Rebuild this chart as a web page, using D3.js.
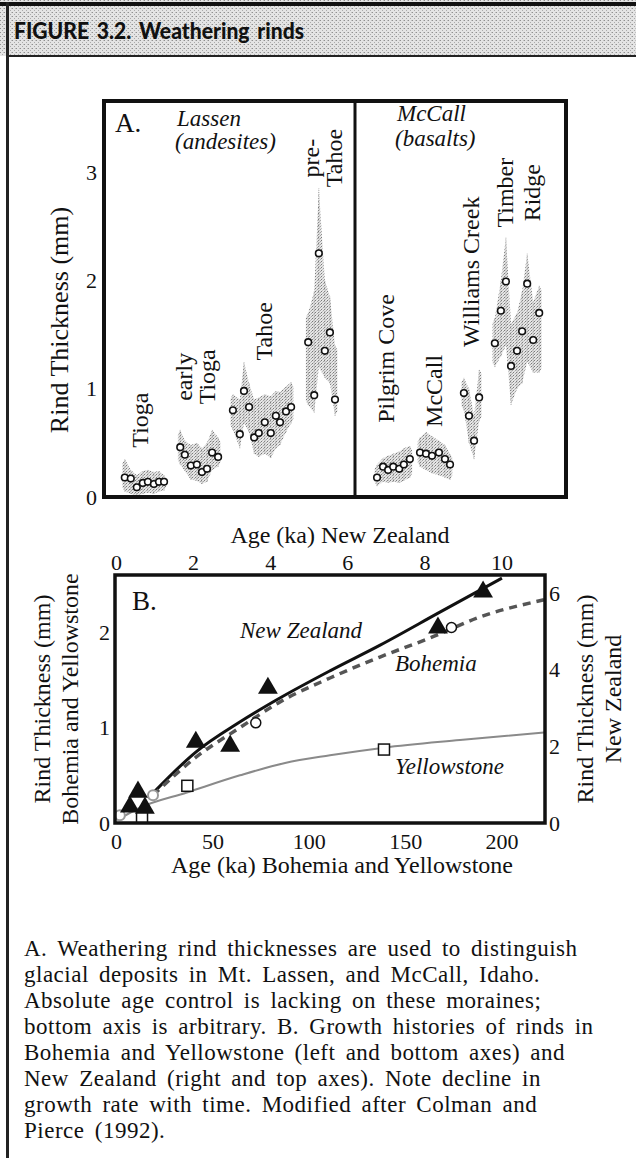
<!DOCTYPE html>
<html>
<head>
<meta charset="utf-8">
<script src="https://cdn.jsdelivr.net/npm/d3@7"></script>
<style>
  body { margin: 0; background: #fff; }
  svg { display: block; }
  text { font-family: "Liberation Serif", "Times New Roman", serif; fill: #111; }
  .tick text { font-size: 22px; font-family: "Liberation Serif", serif; fill: #111; }
</style>
</head>
<body>
<svg id="fig" width="636" height="1158"></svg>
<script>
// ---------- Panel A data (x = arbitrary sample position, y = rind thickness mm)
const tiogaPos  = [4.5, 5.8, 7.1, 8.4, 9.5, 10.8, 11.9, 13.0];
const tiogaRind = [0.18, 0.17, 0.09, 0.13, 0.14, 0.12, 0.14, 0.14];
const tiogaLow  = [0.05, 0.03, 0.01, 0.03, 0.04, 0.03, 0.05, 0.06];
const tiogaHigh = [0.35, 0.25, 0.20, 0.24, 0.25, 0.23, 0.24, 0.20];

const earlyPos  = [16.5, 17.5, 18.8, 20.1, 21.2, 22.3, 23.4, 24.7];
const earlyRind = [0.46, 0.39, 0.29, 0.30, 0.23, 0.26, 0.41, 0.37];
const earlyLow  = [0.30, 0.24, 0.16, 0.15, 0.12, 0.14, 0.25, 0.28];
const earlyHigh = [0.62, 0.52, 0.48, 0.50, 0.45, 0.50, 0.62, 0.55];

const tahoePos  = [27.9, 29.4, 30.3, 31.4, 32.5, 33.5, 34.8, 36.1, 37.2, 38.1, 39.4, 40.5];
const tahoeRind = [0.80, 0.58, 0.98, 0.83, 0.55, 0.59, 0.69, 0.59, 0.75, 0.69, 0.79, 0.83];
const tahoeLow  = [0.62, 0.45, 0.68, 0.60, 0.40, 0.37, 0.40, 0.36, 0.45, 0.48, 0.60, 0.68];
const tahoeHigh = [0.95, 0.90, 1.25, 1.05, 0.90, 0.92, 0.95, 0.93, 0.98, 0.97, 1.02, 1.06];

const preTahoePos  = [44.2, 45.5, 46.5, 47.8, 48.9, 50.0];
const preTahoeRind = [1.43, 0.94, 2.25, 1.35, 1.52, 0.90];
const preTahoeLow  = [0.85, 0.78, 1.20, 1.10, 1.05, 0.75];
const preTahoeHigh = [1.70, 1.90, 2.85, 2.00, 1.85, 1.40];

const pilgrimPos  = [59.1, 60.4, 61.5, 62.6, 63.9, 64.9, 66.2];
const pilgrimRind = [0.18, 0.28, 0.25, 0.28, 0.26, 0.30, 0.35];
const pilgrimLow  = [0.10, 0.14, 0.13, 0.14, 0.13, 0.15, 0.18];
const pilgrimHigh = [0.30, 0.36, 0.38, 0.40, 0.42, 0.45, 0.47];

const mccallPos  = [68.4, 69.7, 71.0, 72.5, 73.8, 74.9];
const mccallRind = [0.41, 0.40, 0.38, 0.41, 0.35, 0.30];
const mccallLow  = [0.28, 0.25, 0.22, 0.20, 0.18, 0.16];
const mccallHigh = [0.55, 0.60, 0.56, 0.52, 0.48, 0.40];

const williamsPos  = [77.9, 79.0, 80.1, 81.2];
const williamsRind = [0.96, 0.75, 0.52, 0.92];
const williamsLow  = [0.80, 0.50, 0.35, 0.70];
const williamsHigh = [1.10, 1.00, 0.75, 1.18];

const timberPos  = [84.6, 85.9, 87.0, 88.1, 89.4, 90.5, 91.6, 92.9, 94.2];
const timberRind = [1.42, 1.72, 1.99, 1.21, 1.35, 1.53, 1.97, 1.45, 1.70];
const timberLow  = [1.20, 1.30, 1.40, 0.85, 1.00, 1.05, 1.25, 1.15, 1.15];
const timberHigh = [1.65, 2.00, 2.40, 1.60, 1.70, 1.90, 2.25, 1.80, 1.95];

const aTicks = [0, 1, 2, 3];

// ---------- Panel B data
// New Zealand: top axis (ka) / right axis (mm)
const nzAge  = [0.36, 0.57, 0.75, 2.07, 2.96, 3.94, 8.35, 9.52];
const nzRind = [0.42, 0.81, 0.39, 2.11, 2.01, 3.52, 5.09, 6.03];
const nzCurveAge  = [0.96, 2.07, 3.22, 4.25, 5.55, 6.85, 8.40, 10.01];
const nzCurveRind = [0.78, 1.85, 2.64, 3.26, 3.97, 4.64, 5.50, 6.39];
// Bohemia + Yellowstone: bottom axis (ka) / left axis (mm)
const bohAge  = [72.5, 174];
const bohRind = [1.05, 2.05];
const bohGrayAge  = [2, 19.2];
const bohGrayRind = [0.08, 0.29];
const bohCurveAge  = [19.2, 41.5, 64.3, 85.1, 111, 136.9, 162.9, 188.8, 222];
const bohCurveRind = [0.29, 0.69, 1.00, 1.27, 1.52, 1.74, 1.94, 2.16, 2.34];
const ysAge  = [13.5, 37, 139];
const ysRind = [0.06, 0.39, 0.77];
const ysCurveAge  = [0.5, 12.4, 36.8, 64.3, 87.7, 111, 139, 178.4, 222];
const ysCurveRind = [0.03, 0.16, 0.32, 0.50, 0.63, 0.71, 0.79, 0.87, 0.95];

const bLeftTicks   = [0, 1, 2];
const bRightTicks  = [0, 2, 4, 6];
const bTopTicks    = [0, 2, 4, 6, 8, 10];
const bBottomTicks = [0, 50, 100, 150, 200];

const captionLines = [
  "A. Weathering rind thicknesses are used to distinguish",
  "glacial deposits in Mt. Lassen, and McCall, Idaho.",
  "Absolute age control is lacking on these moraines;",
  "bottom axis is arbitrary. B. Growth histories of rinds in",
  "Bohemia and Yellowstone (left and bottom axes) and",
  "New Zealand (right and top axes). Note decline in",
  "growth rate with time. Modified after Colman and",
  "Pierce (1992)."
];

const svg = d3.select('#fig');
const defs = svg.append('defs');

// halftone patterns
const stip = defs.append('pattern').attr('id', 'stip')
  .attr('width', 3).attr('height', 3).attr('patternUnits', 'userSpaceOnUse');
stip.append('rect').attr('width', 3).attr('height', 3).attr('fill', '#e6e6e6');
stip.append('rect').attr('width', 1).attr('height', 1).attr('fill', '#7a7a7a');
stip.append('rect').attr('x', 2).attr('y', 1).attr('width', 1).attr('height', 1).attr('fill', '#a4a4a4');
stip.append('rect').attr('x', 1).attr('y', 2).attr('width', 1).attr('height', 1).attr('fill', '#c0c0c0');

const tone = defs.append('pattern').attr('id', 'tone')
  .attr('width', 4).attr('height', 4).attr('patternUnits', 'userSpaceOnUse');
tone.append('rect').attr('width', 4).attr('height', 4).attr('fill', '#e4e4e4');
tone.append('rect').attr('width', 1).attr('height', 1).attr('fill', '#909090');
tone.append('rect').attr('x', 2).attr('y', 2).attr('width', 1).attr('height', 1).attr('fill', '#aaaaaa');
tone.append('rect').attr('x', 3).attr('y', 0).attr('width', 1).attr('height', 1).attr('fill', '#c0c0c0');

// ---------- header
svg.append('rect').attr('x', 0).attr('y', 0).attr('width', 636).attr('height', 56).attr('fill', 'url(#tone)');
svg.append('rect').attr('x', 0).attr('y', 2).attr('width', 636).attr('height', 4).attr('fill', '#111');
svg.append('rect').attr('x', 6).attr('y', 55).attr('width', 630).attr('height', 2).attr('fill', '#222');
svg.append('rect').attr('x', 6).attr('y', 2).attr('width', 3).attr('height', 1156).attr('fill', '#222');
svg.append('text').attr('x', 14).attr('y', 39)
  .style('font-family', 'Lato, "Open Sans", sans-serif').style('font-weight', 900)
  .style('font-size', '23px').style('word-spacing', '3px')
  .attr('textLength', 290).attr('lengthAdjust', 'spacingAndGlyphs')
  .text('FIGURE 3.2.  Weathering rinds');

// ---------- Panel A
const aLeft = 104, aRight = 566, aTop = 101, aBottom = 497, aDivide = 355;
const xA = d3.scaleLinear().domain([0, 100]).range([aLeft, aRight]);
const yA = d3.scaleLinear().domain([0, 3.657]).range([aBottom, aTop]);

const groups = [
  { pos: tiogaPos, rind: tiogaRind, low: tiogaLow, high: tiogaHigh },
  { pos: earlyPos, rind: earlyRind, low: earlyLow, high: earlyHigh },
  { pos: tahoePos, rind: tahoeRind, low: tahoeLow, high: tahoeHigh },
  { pos: preTahoePos, rind: preTahoeRind, low: preTahoeLow, high: preTahoeHigh },
  { pos: pilgrimPos, rind: pilgrimRind, low: pilgrimLow, high: pilgrimHigh },
  { pos: mccallPos, rind: mccallRind, low: mccallLow, high: mccallHigh },
  { pos: williamsPos, rind: williamsRind, low: williamsLow, high: williamsHigh },
  { pos: timberPos, rind: timberRind, low: timberLow, high: timberHigh }
];

const band = d3.area()
  .x(d => xA(d.p)).y0(d => yA(d.lo)).y1(d => yA(d.hi))
  .curve(d3.curveLinear);

const gA = svg.append('g');
groups.forEach(g => {
  const rows = g.pos.map((p, i) => ({ p, v: g.rind[i], lo: g.low[i], hi: g.high[i] }));
  // pad band a little beyond end samples
  const padRows = [{ p: rows[0].p - 0.5, lo: rows[0].lo + 0.04, hi: rows[0].hi - 0.04 }]
    .concat(rows, [{ p: rows[rows.length - 1].p + 0.5, lo: rows[rows.length - 1].lo + 0.04, hi: rows[rows.length - 1].hi - 0.04 }]);
  gA.append('path').datum(padRows).attr('d', band).attr('fill', 'url(#stip)');
  // thin dotted whiskers at extremes
  gA.selectAll(null).data(rows).enter().append('line')
    .attr('x1', d => xA(d.p)).attr('x2', d => xA(d.p))
    .attr('y1', d => yA(d.lo)).attr('y2', d => yA(d.hi))
    .attr('stroke', '#999').attr('stroke-width', 0.8).attr('stroke-dasharray', '1 1');
  gA.selectAll(null).data(rows).enter().append('circle')
    .attr('cx', d => xA(d.p)).attr('cy', d => yA(d.v)).attr('r', 3.3)
    .attr('fill', '#fff').attr('stroke', '#111').attr('stroke-width', 1.6);
});

// frame
svg.append('rect').attr('x', aLeft).attr('y', aTop).attr('width', aRight - aLeft).attr('height', aBottom - aTop)
  .attr('fill', 'none').attr('stroke', '#111').attr('stroke-width', 4);
svg.append('line').attr('x1', aDivide).attr('x2', aDivide).attr('y1', aTop).attr('y2', aBottom)
  .attr('stroke', '#111').attr('stroke-width', 3);

const axA = svg.append('g').attr('transform', `translate(${aLeft - 1},0)`)
  .call(d3.axisLeft(yA).tickValues(aTicks).tickSize(0).tickPadding(6).tickFormat(d3.format('d')));
axA.select('.domain').remove();

svg.append('text').attr('transform', `translate(68,320) rotate(-90)`)
  .attr('text-anchor', 'middle').style('font-size', '26px').text('Rind Thickness (mm)');

svg.append('text').attr('x', 115).attr('y', 132).style('font-size', '27px').text('A.');
svg.append('text').attr('x', 177).attr('y', 126).style('font-size', '23px').style('font-style', 'italic').text('Lassen');
svg.append('text').attr('x', 175).attr('y', 149).style('font-size', '23px').style('font-style', 'italic').text('(andesites)');
svg.append('text').attr('x', 397).attr('y', 121).style('font-size', '23px').style('font-style', 'italic').text('McCall');
svg.append('text').attr('x', 395).attr('y', 146).style('font-size', '23px').style('font-style', 'italic').text('(basalts)');

// rotated moraine labels: lines, x-centres (px), y value (mm)
function vlabel(lines, xs, yVal) {
  lines.forEach((s, i) => {
    svg.append('text')
      .attr('transform', `translate(${xs[i]},${yA(yVal)}) rotate(-90)`)
      .attr('text-anchor', 'middle').attr('dy', '0.28em')
      .style('font-size', '24px').text(s);
  });
}
vlabel(['Tioga'], [141], 0.71);
vlabel(['early', 'Tioga'], [185, 208], 1.11);
vlabel(['Tahoe'], [265], 1.53);
vlabel(['pre-', 'Tahoe'], [312, 335], 3.13);
vlabel(['Pilgrim Cove'], [387], 1.28);
vlabel(['McCall'], [435], 0.98);
vlabel(['Williams Creek'], [472], 2.08);
vlabel(['Timber', 'Ridge'], [506, 533], 2.81);

// ---------- Panel B
const bLeft = 115, bRight = 545, bTop = 575, bBottom = 823;
const xB = d3.scaleLinear().domain([0, 222]).range([116, 544]);   // Bohemia & Yellowstone ka
const xT = d3.scaleLinear().domain([0, 11.1]).range([116, 544]);  // New Zealand ka
const yL = d3.scaleLinear().domain([0, 2.6]).range([bBottom, bTop]);
const yR = d3.scaleLinear().domain([0, 6.47]).range([bBottom, bTop]);

const clip = defs.append('clipPath').attr('id', 'bclip');
clip.append('rect').attr('x', bLeft).attr('y', bTop).attr('width', bRight - bLeft).attr('height', bBottom - bTop);
const gB = svg.append('g').attr('clip-path', 'url(#bclip)');

const lineBY = d3.line().x(d => xB(d[0])).y(d => yL(d[1])).curve(d3.curveMonotoneX);
const lineNZ = d3.line().x(d => xT(d[0])).y(d => yR(d[1])).curve(d3.curveMonotoneX);

gB.append('path').datum(d3.zip(ysCurveAge, ysCurveRind)).attr('d', lineBY)
  .attr('fill', 'none').attr('stroke', '#8a8a8a').attr('stroke-width', 2);
gB.append('path').datum(d3.zip(nzCurveAge, nzCurveRind)).attr('d', lineNZ)
  .attr('fill', 'none').attr('stroke', '#111').attr('stroke-width', 3);
gB.append('path').datum(d3.zip(bohCurveAge, bohCurveRind)).attr('d', lineBY)
  .attr('fill', 'none').attr('stroke', '#555').attr('stroke-width', 3.5).attr('stroke-dasharray', '8 6');

gB.selectAll(null).data(d3.zip(bohGrayAge, bohGrayRind)).enter().append('circle')
  .attr('cx', d => xB(d[0])).attr('cy', d => yL(d[1])).attr('r', 5)
  .attr('fill', '#fff').attr('stroke', '#999').attr('stroke-width', 2);
gB.selectAll(null).data(d3.zip(ysAge, ysRind)).enter().append('rect')
  .attr('x', d => xB(d[0]) - 5.5).attr('y', d => yL(d[1]) - 5.5).attr('width', 11).attr('height', 11)
  .attr('fill', '#fff').attr('stroke', '#111').attr('stroke-width', 1.5);
gB.selectAll(null).data(d3.zip(bohAge, bohRind)).enter().append('circle')
  .attr('cx', d => xB(d[0])).attr('cy', d => yL(d[1])).attr('r', 5)
  .attr('fill', '#fff').attr('stroke', '#111').attr('stroke-width', 1.5);
const tri = d3.symbol().type(d3.symbolTriangle).size(170);
gB.selectAll(null).data(d3.zip(nzAge, nzRind)).enter().append('path')
  .attr('transform', d => `translate(${xT(d[0])},${yR(d[1])})`).attr('d', tri).attr('fill', '#111');

svg.append('rect').attr('x', bLeft).attr('y', bTop).attr('width', bRight - bLeft).attr('height', bBottom - bTop)
  .attr('fill', 'none').attr('stroke', '#111').attr('stroke-width', 3.5);

const fmt = d3.format('d');
svg.append('g').attr('transform', `translate(${bLeft - 1},0)`)
  .call(d3.axisLeft(yL).tickValues(bLeftTicks).tickSize(0).tickPadding(4).tickFormat(fmt))
  .select('.domain').remove();
svg.append('g').attr('transform', `translate(${bRight + 1},0)`)
  .call(d3.axisRight(yR).tickValues(bRightTicks).tickSize(0).tickPadding(3).tickFormat(fmt))
  .select('.domain').remove();
svg.append('g').attr('transform', `translate(0,${bTop})`)
  .call(d3.axisTop(xT).tickValues(bTopTicks).tickSize(0).tickPadding(5).tickFormat(fmt))
  .select('.domain').remove();
svg.append('g').attr('transform', `translate(0,${bBottom + 1})`)
  .call(d3.axisBottom(xB).tickValues(bBottomTicks).tickSize(0).tickPadding(9).tickFormat(fmt))
  .select('.domain').remove();

svg.append('text').attr('x', 340).attr('y', 543).attr('text-anchor', 'middle').style('font-size', '24px').text('Age (ka) New Zealand');
svg.append('text').attr('x', 342).attr('y', 873).attr('text-anchor', 'middle').style('font-size', '24px').text('Age (ka) Bohemia and Yellowstone');

svg.append('text').attr('transform', 'translate(43,699) rotate(-90)').attr('text-anchor', 'middle').attr('dy', '0.3em')
  .style('font-size', '24px').text('Rind Thickness (mm)');
svg.append('text').attr('transform', 'translate(71,699) rotate(-90)').attr('text-anchor', 'middle').attr('dy', '0.3em')
  .style('font-size', '24px').text('Bohemia and Yellowstone');
svg.append('text').attr('transform', 'translate(586,699) rotate(-90)').attr('text-anchor', 'middle').attr('dy', '0.3em')
  .style('font-size', '24px').text('Rind Thickness (mm)');
svg.append('text').attr('transform', 'translate(614,699) rotate(-90)').attr('text-anchor', 'middle').attr('dy', '0.3em')
  .style('font-size', '24px').text('New Zealand');

svg.append('text').attr('x', 132).attr('y', 610).style('font-size', '27px').text('B.');
svg.append('text').attr('x', 240).attr('y', 638).style('font-size', '23px').style('font-style', 'italic').text('New Zealand');
svg.append('text').attr('x', 395).attr('y', 671).style('font-size', '23px').style('font-style', 'italic').text('Bohemia');
svg.append('text').attr('x', 395).attr('y', 774).style('font-size', '23px').style('font-style', 'italic').text('Yellowstone');

// ---------- caption: serif, slightly tracked; word spacing chosen so the
// longest line just fits the box
const capSize = 23, capLS = 0.5;
const capText = svg.append('g').selectAll('text').data(captionLines).enter().append('text')
  .attr('x', 24).attr('y', (d, i) => 956 + i * 26)
  .style('font-family', '"Liberation Serif", serif').style('font-size', capSize + 'px')
  .style('letter-spacing', capLS + 'px')
  .text(d => d);
let ws = Infinity;
capText.each(function (d) {
  const spaces = (d.match(/ /g) || []).length;
  if (d.length > 40) ws = Math.min(ws, (606 - this.getComputedTextLength()) / spaces);
});
ws = Math.max(0, Math.min(ws, 4));
capText.style('word-spacing', ws.toFixed(2) + 'px');
</script>
</body>
</html>
